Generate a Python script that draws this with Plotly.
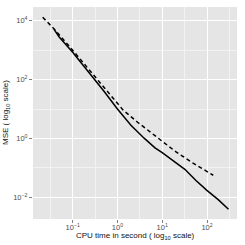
import plotly.graph_objects as go

# Solid series
solid_cpu = [0.038, 0.050, 0.10, 0.245, 0.50, 1.0, 2.0, 4.0, 6.9, 10, 17.8, 32, 56, 98, 178, 302]
solid_mse = [5250, 2820, 850, 162, 40, 10, 2.8, 1.0, 0.48, 0.33, 0.178, 0.089, 0.038, 0.0174, 0.0083, 0.0039]

# Dashed series
dashed_cpu = [0.0214, 0.040, 0.10, 0.20, 0.347, 0.63, 1.35, 2.82, 5.37, 10, 20, 50, 138]
dashed_mse = [13200, 5000, 1000, 282, 110, 35.5, 9.1, 3.55, 1.66, 0.79, 0.355, 0.141, 0.056]

x_ticks = [0.1, 1, 10, 100]
x_ticklabels = ["10<sup>−1</sup>", "10<sup>0</sup>", "10<sup>1</sup>", "10<sup>2</sup>"]
x_minor = [10**-1.5, 10**-0.5, 10**0.5, 10**1.5, 10**2.5]
y_ticks = [0.01, 1, 100, 10000]
y_ticklabels = ["10<sup>−2</sup>", "10<sup>0</sup>", "10<sup>2</sup>", "10<sup>4</sup>"]
y_minor = [0.1, 10, 1000]

FONT = "Liberation Sans, Arial, sans-serif"

fig = go.Figure()
fig.add_trace(go.Scatter(x=solid_cpu, y=solid_mse, mode="lines",
                         line=dict(color="black", width=1.5), showlegend=False))
fig.add_trace(go.Scatter(x=dashed_cpu, y=dashed_mse, mode="lines",
                         line=dict(color="black", width=1.5, dash="4px,3px"), showlegend=False))

axis_common = dict(
    type="log", showline=False, zeroline=False, automargin=False,
    gridcolor="white", gridwidth=1,
    ticks="outside", ticklen=3, tickcolor="#7F7F7F", tickwidth=1,
    tickfont=dict(family=FONT, size=7.5, color="#4D4D4D"),
)

fig.update_xaxes(**axis_common, range=[-1.886, 2.67], tickmode="array",
                 tickvals=x_ticks, ticktext=x_ticklabels, ticklabelstandoff=-2,
                 minor=dict(tickmode="array", tickvals=x_minor, showgrid=True,
                            gridcolor="#F2F2F2", gridwidth=0.6, ticklen=0))
fig.update_yaxes(**axis_common, range=[-2.74, 4.47], tickmode="array",
                 tickvals=y_ticks, ticktext=y_ticklabels,
                 minor=dict(tickmode="array", tickvals=y_minor, showgrid=True,
                            gridcolor="#F2F2F2", gridwidth=0.6, ticklen=0))

fig.add_annotation(text="CPU time in second ( log<sub>10</sub> scale)",
                   xref="paper", yref="paper", x=0.5, y=0, yshift=-10,
                   xanchor="center", yanchor="top", showarrow=False,
                   font=dict(family=FONT, size=8, color="#111111"))
fig.add_annotation(text="MSE ( log<sub>10</sub> scale)",
                   xref="paper", yref="paper", x=0, y=0.5, xshift=-20,
                   xanchor="right", yanchor="middle", textangle=-90, showarrow=False,
                   font=dict(family=FONT, size=8, color="#111111"))

fig.update_layout(
    width=245, height=245,
    margin=dict(l=33, r=8, t=7, b=26),
    paper_bgcolor="white", plot_bgcolor="#E5E5E5",
)

fig.write_html("out.html", config={"displayModeBar": False},
               post_script="document.body.style.margin='0';document.body.style.overflow='hidden';")
